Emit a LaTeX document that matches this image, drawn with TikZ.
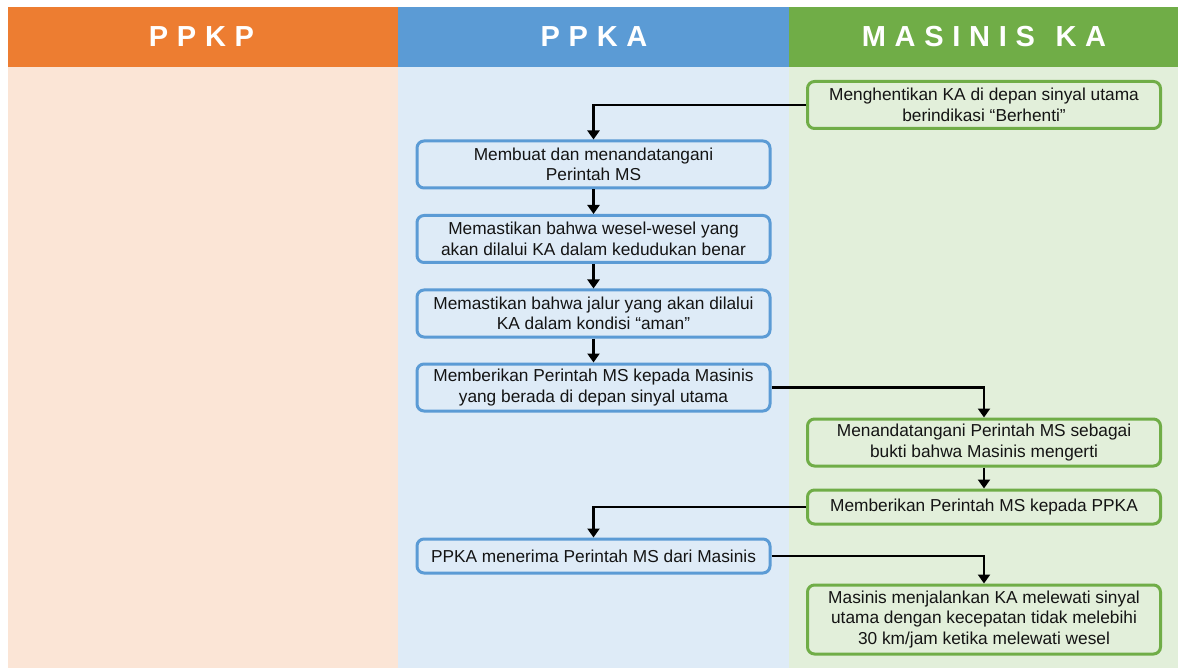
\documentclass[tikz,border=0pt]{standalone}
\usepackage{fontspec}
\setmainfont{Liberation Sans}
\usetikzlibrary{arrows.meta}
\definecolor{orH}{HTML}{ED7D31}
\definecolor{orB}{HTML}{FBE5D6}
\definecolor{blH}{HTML}{5B9BD5}
\definecolor{blB}{HTML}{DEEBF7}
\definecolor{grH}{HTML}{70AD47}
\definecolor{grB}{HTML}{E2EFDA}
\definecolor{txt}{HTML}{141414}
\begin{document}
\begin{tikzpicture}[x=1pt,y=-1pt,
  hdr/.style={text=white,font=\fontsize{29}{32}\selectfont\bfseries\addfontfeatures{LetterSpace=30}},
  box/.style={rectangle,rounded corners=7pt,line width=3pt,align=center,text=txt,
    font=\fontsize{17.3}{20.5}\selectfont,minimum width=353pt,inner sep=0pt},
  bbox/.style={box,draw=blH,fill=blB},
  gbox/.style={box,draw=grH,fill=grB},
  arr/.style={line width=2.2pt,-{Triangle[length=9pt,width=12pt]}}]
\useasboundingbox (0,0) rectangle (1178,668);
\fill[white] (0,0) rectangle (1178,668);
% lanes
\fill[orB] (8,67) rectangle (398,668);
\fill[blB] (398,67) rectangle (789,668);
\fill[grB] (789,67) rectangle (1178,668);
\fill[orH] (8,7) rectangle (398,67);
\fill[blH] (398,7) rectangle (789,67);
\fill[grH] (789,7) rectangle (1178,67);
\node[hdr] (h1) at (201.5,37) {PPKP};
\node[hdr] (h2) at (594,37) {PPKA};
\node[hdr] (h3) at (984,37) {MASINIS\hspace{4pt} KA};
% boxes
\node[gbox,minimum height=47pt] (g1) at (984,105) {Menghentikan KA di depan sinyal utama\\berindikasi “Berhenti”};
\node[bbox,minimum height=47pt] (b1) at (593.5,164.5) {Membuat dan menandatangani\\Perintah MS};
\node[bbox,minimum height=47pt] (b2) at (593.5,239) {Memastikan bahwa wesel-wesel yang\\akan dilalui KA dalam kedudukan benar};
\node[bbox,minimum height=47pt] (b3) at (593.5,313.5) {Memastikan bahwa jalur yang akan dilalui\\KA dalam kondisi “aman”};
\node[bbox,minimum height=47pt] (b4) at (593.5,387.5) {Memberikan Perintah MS kepada Masinis\\yang berada di depan sinyal utama};
\node[gbox,minimum height=47pt] (g2) at (984,442.5) {Menandatangani Perintah MS sebagai\\bukti bahwa Masinis mengerti};
\node[gbox,minimum height=34pt] (g3) at (984,507) {Memberikan Perintah MS kepada PPKA};
\node[bbox,minimum height=34pt] (b5) at (593.5,556) {PPKA menerima Perintah MS dari Masinis};
\node[gbox,minimum height=69pt] (g4) at (984,619.5) {Masinis menjalankan KA melewati sinyal\\utama dengan kecepatan tidak melebihi\\30 km/jam ketika melewati wesel};
% connectors
\draw[arr] (g1.west) -| (b1.north);
\draw[arr] (b1.south) -- (b2.north);
\draw[arr] (b2.south) -- (b3.north);
\draw[arr] (b3.south) -- (b4.north);
\draw[arr] (b4.east) -| (g2.north);
\draw[arr] (g2.south) -- (g3.north);
\draw[arr] (g3.west) -| (b5.north);
\draw[arr] (b5.east) -| (g4.north);
\end{tikzpicture}
\end{document}
